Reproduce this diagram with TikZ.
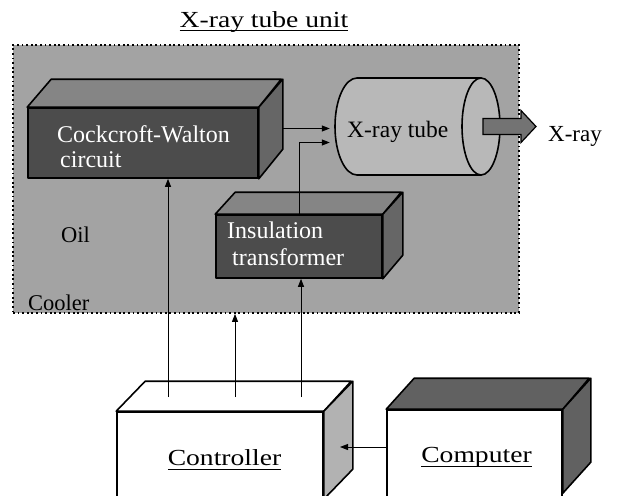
\documentclass[tikz,border=0pt]{standalone}
\usepackage{fontspec}
\setmainfont{Liberation Serif}
\newfontfamily\widefont{Liberation Serif}[FakeStretch=1.2]
\usetikzlibrary{arrows.meta}

\newcommand\uln[2][4pt]{\setbox0\hbox{#2}\rlap{\rule[-#1]{\wd0}{1.3pt}}\box0}

\begin{document}
\begin{tikzpicture}[x=1pt,y=-1pt,
  face/.style={draw, line width=1.6pt, line join=round},
  front/.style={face, inner sep=0pt},
  arr/.style={line width=1pt, -{Triangle[length=8pt,width=6pt]}},
  lbl/.style={inner sep=0pt, anchor=base west, font=\fontsize{24}{26}\selectfont},
  big/.style={inner sep=0pt, anchor=base, font=\widefont\fontsize{23}{25}\selectfont},
]
\useasboundingbox (0,0) rectangle (617,495);

\node[big] (title) at (264,28) {\uln[3.5pt]{X-ray tube unit}};

\node[draw, dash pattern=on 1.8pt off 2.8pt, line width=1.8pt, fill=black!36,
      minimum width=506pt, minimum height=268pt, inner sep=0pt] (unit) at (266,179) {};

% Cockcroft-Walton block
\node[front, fill=black!70, minimum width=230pt, minimum height=70pt] (cw) at (143,143) {};
\filldraw[face, fill=black!48] (cw.north west) -- ++(24,-28) -- ++(230,0) -- (cw.north east) -- cycle;
\filldraw[face, fill=black!60] (cw.north east) -- ++(24,-28) coordinate (cwtr) -- ++(0,70) -- (cw.south east) -- cycle;
\node[lbl, text=white] (cwa) at (57,142) {Cockcroft-Walton};
\node[lbl, text=white] (cwb) at (60,167) {circuit};

% insulation transformer
\node[front, fill=black!70, minimum width=166pt, minimum height=63pt] (it) at (299,246.5) {};
\filldraw[face, fill=black!48] (it.north west) -- ++(20,-22) -- ++(166,0) -- (it.north east) -- cycle;
\filldraw[face, fill=black!60] (it.north east) -- ++(20,-22) -- ++(0,63) -- (it.south east) -- cycle;
\node[lbl, text=white] (ita) at (227,238) {Insulation};
\node[lbl, text=white] (itb) at (232,265) {transformer};

% x-ray tube
\filldraw[face, fill=black!28] (357,78) -- (481,78) -- (481,175) -- (357,175)
  arc[start angle=270, end angle=90, x radius=22pt, y radius=48.5pt] -- cycle;
\filldraw[face, fill=black!28] (481,126.5) ellipse[x radius=19pt, y radius=48.5pt];
\node[minimum width=170pt, minimum height=97pt, inner sep=0pt] (tube) at (415,126.5) {};
\node[lbl, font=\fontsize{23.5}{25}\selectfont] (tubetxt) at (347,137) {X-ray tube};
\filldraw[line width=1.2pt, line join=miter, fill=black!55] (483,118.5) -- (521,118.5) -- (521,110.5)
  -- (536,126.5) -- (521,142.5) -- (521,134.5) -- (483,134.5) -- cycle;
\node[lbl, font=\fontsize{23}{25}\selectfont] (xray) at (548,141) {X-ray};

\node[lbl, font=\fontsize{22.5}{24}\selectfont] (oil) at (61,242) {Oil};
\node[lbl, font=\fontsize{22.5}{24}\selectfont] (cooler) at (28,310) {Cooler};

\draw[arr] ([yshift=-2pt]tube.west -| cwtr) -- ([yshift=-2pt]tube.west);
\draw[arr] (it.north) |- ([yshift=-16pt]tube.west);

% controller and computer
\node[front, fill=white, minimum width=206pt, minimum height=93pt] (ctl) at (220,458.5) {};
\filldraw[face, fill=white] (ctl.north west) -- ++(29,-30) -- ++(206,0) -- (ctl.north east) -- cycle;
\filldraw[face, fill=black!30] (ctl.north east) -- ++(29,-30) -- ++(0,88) -- ++(-29,30) -- cycle;
\node[big] (ctltxt) at (224.5,465) {\uln[5pt]{Controller}};

\node[front, fill=white, minimum width=175pt, minimum height=95pt] (comp) at (474.5,457.5) {};
\filldraw[face, fill=black!62] (comp.north west) -- ++(28,-31) -- ++(175,0) -- (comp.north east) -- cycle;
\filldraw[face, fill=black!62] (comp.north east) -- ++(28,-31) -- ++(0,84) -- ++(-28,31) -- cycle;
\node[big] (comptxt) at (476.5,462) {\uln[5pt]{Computer}};

\coordinate (c1) at (168,397);
\coordinate (c2) at (235,397);
\coordinate (c3) at (301,397);
\coordinate (cside) at (340,447);
\draw[arr] (c1) -- (c1 |- cw.south);
\draw[arr] (c2) -- (c2 |- unit.south);
\draw[arr] (c3) -- (c3 |- it.south);
\draw[arr] (comp.west |- cside) -- (cside);
\end{tikzpicture}
\end{document}
